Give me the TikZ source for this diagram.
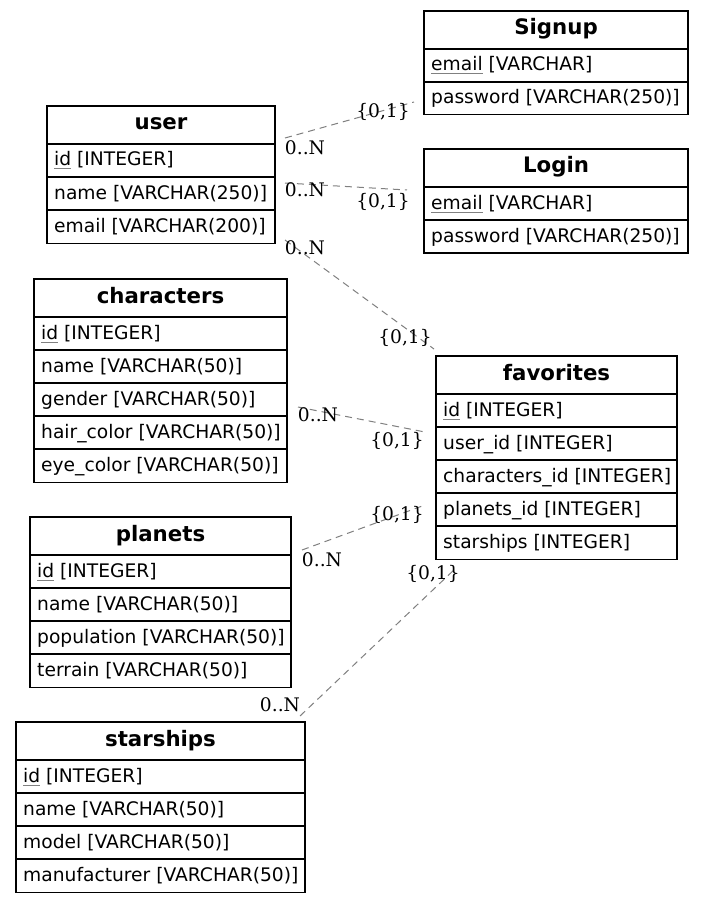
\documentclass[tikz,border=0pt]{standalone}
\usepackage{fontspec}
\setmainfont{DejaVu Sans}
\newfontfamily\labelfont{DejaVu Serif}
\usetikzlibrary{calc}

\tikzset{
  tablebox/.style={draw=black, line width=1.2pt, inner sep=0pt, outer sep=0pt, anchor=north west},
  gridline/.style={draw=black, line width=1.2pt},
  headtext/.style={inner sep=0pt, anchor=base, font=\fontsize{21.3}{24}\selectfont\bfseries},
  rowtext/.style={inner sep=0pt, anchor=base west, font=\fontsize{18.67}{22}\selectfont},
  card/.style={inner sep=0pt, font=\labelfont\fontsize{18.67}{22}\selectfont},
  rel/.style={draw=gray, line width=1pt, dash pattern=on 7pt off 5pt},
}

% primary key: text with a grey underline
\newcommand\pk[1]{\setbox0\hbox{#1}\rlap{\color{gray}\rule[-3.5pt]{\wd0}{1pt}}\box0\relax}

% \ertable{name}{left}{top}{width}{rows}{title}{row list}
\newcommand\ertable[7]{%
  \pgfmathsetmacro\tblh{37.5+#5*33.2}%
  \node[tablebox, minimum width=#4, minimum height=\tblh] (#1) at (#2,-#3) {};
  \node[headtext] (#1-title) at ($(#1.north west)+(#4/2,-24)$) {#6};
  \foreach \r [count=\i] in {#7} {
    \pgfmathsetmacro\rowtop{round(37.5+(\i-1)*33.2)}
    \draw[gridline] ($(#1.north west)+(0,-\rowtop)$) -- ++(#4,0);
    \node[rowtext] (#1-row\i) at ($(#1.north west)+(7,{-\rowtop-22})$) {\r};
  }%
}

\begin{document}
\begin{tikzpicture}[x=1pt,y=1pt]
  \fill[white] (0,0) rectangle (704,-904);
  \useasboundingbox (0,0) rectangle (704,-904);

  \ertable{signup}{424}{11}{264}{2}{Signup}{{\pk{email} [VARCHAR]},{password [VARCHAR(250)]}}
  \ertable{login}{424}{149}{264}{2}{Login}{{\pk{email} [VARCHAR]},{password [VARCHAR(250)]}}
  \ertable{user}{47}{106}{228}{3}{user}{{\pk{id} [INTEGER]},{name [VARCHAR(250)]},{email [VARCHAR(200)]}}
  \ertable{characters}{34}{279}{253}{5}{characters}{{\pk{id} [INTEGER]},{name [VARCHAR(50)]},{gender [VARCHAR(50)]},{hair\_color [VARCHAR(50)]},{eye\_color [VARCHAR(50)]}}
  \ertable{favorites}{436}{356}{241}{5}{favorites}{{\pk{id} [INTEGER]},{user\_id [INTEGER]},{characters\_id [INTEGER]},{planets\_id [INTEGER]},{starships [INTEGER]}}
  \ertable{planets}{30}{517}{261}{4}{planets}{{\pk{id} [INTEGER]},{name [VARCHAR(50)]},{population [VARCHAR(50)]},{terrain [VARCHAR(50)]}}
  \ertable{starships}{16}{722}{289}{4}{starships}{{\pk{id} [INTEGER]},{name [VARCHAR(50)]},{model [VARCHAR(50)]},{manufacturer [VARCHAR(50)]}}

  % relationship end points
  \coordinate (r1a) at (285,-138); \coordinate (r1b) at (414,-102);
  \coordinate (r2a) at (285,-183); \coordinate (r2b) at (407,-190);
  \coordinate (r3a) at (285,-240); \coordinate (r3b) at (434,-349);
  \coordinate (r4a) at (298,-407); \coordinate (r4b) at (425,-432);
  \coordinate (r5a) at (302,-550); \coordinate (r5b) at (425,-505);
  \coordinate (r6a) at (300,-716); \coordinate (r6b) at (456,-568);

  \foreach \k in {1,...,6} { \draw[rel] (r\k a) -- (r\k b); }

  % cardinalities
  \node[card] (c1a) at (305,-148) {0..N};
  \node[card] (c1b) at (383,-112) {\{0,1\}};
  \node[card] (c2a) at (305,-190) {0..N};
  \node[card] (c2b) at (383,-202) {\{0,1\}};
  \node[card] (c3a) at (305,-248) {0..N};
  \node[card] (c3b) at (405,-338) {\{0,1\}};
  \node[card] (c4a) at (318,-415) {0..N};
  \node[card] (c4b) at (397,-441) {\{0,1\}};
  \node[card] (c5a) at (322,-560) {0..N};
  \node[card] (c5b) at (397,-515) {\{0,1\}};
  \node[card] (c6a) at (280,-705) {0..N};
  \node[card] (c6b) at (433,-574) {\{0,1\}};
\end{tikzpicture}
\end{document}
